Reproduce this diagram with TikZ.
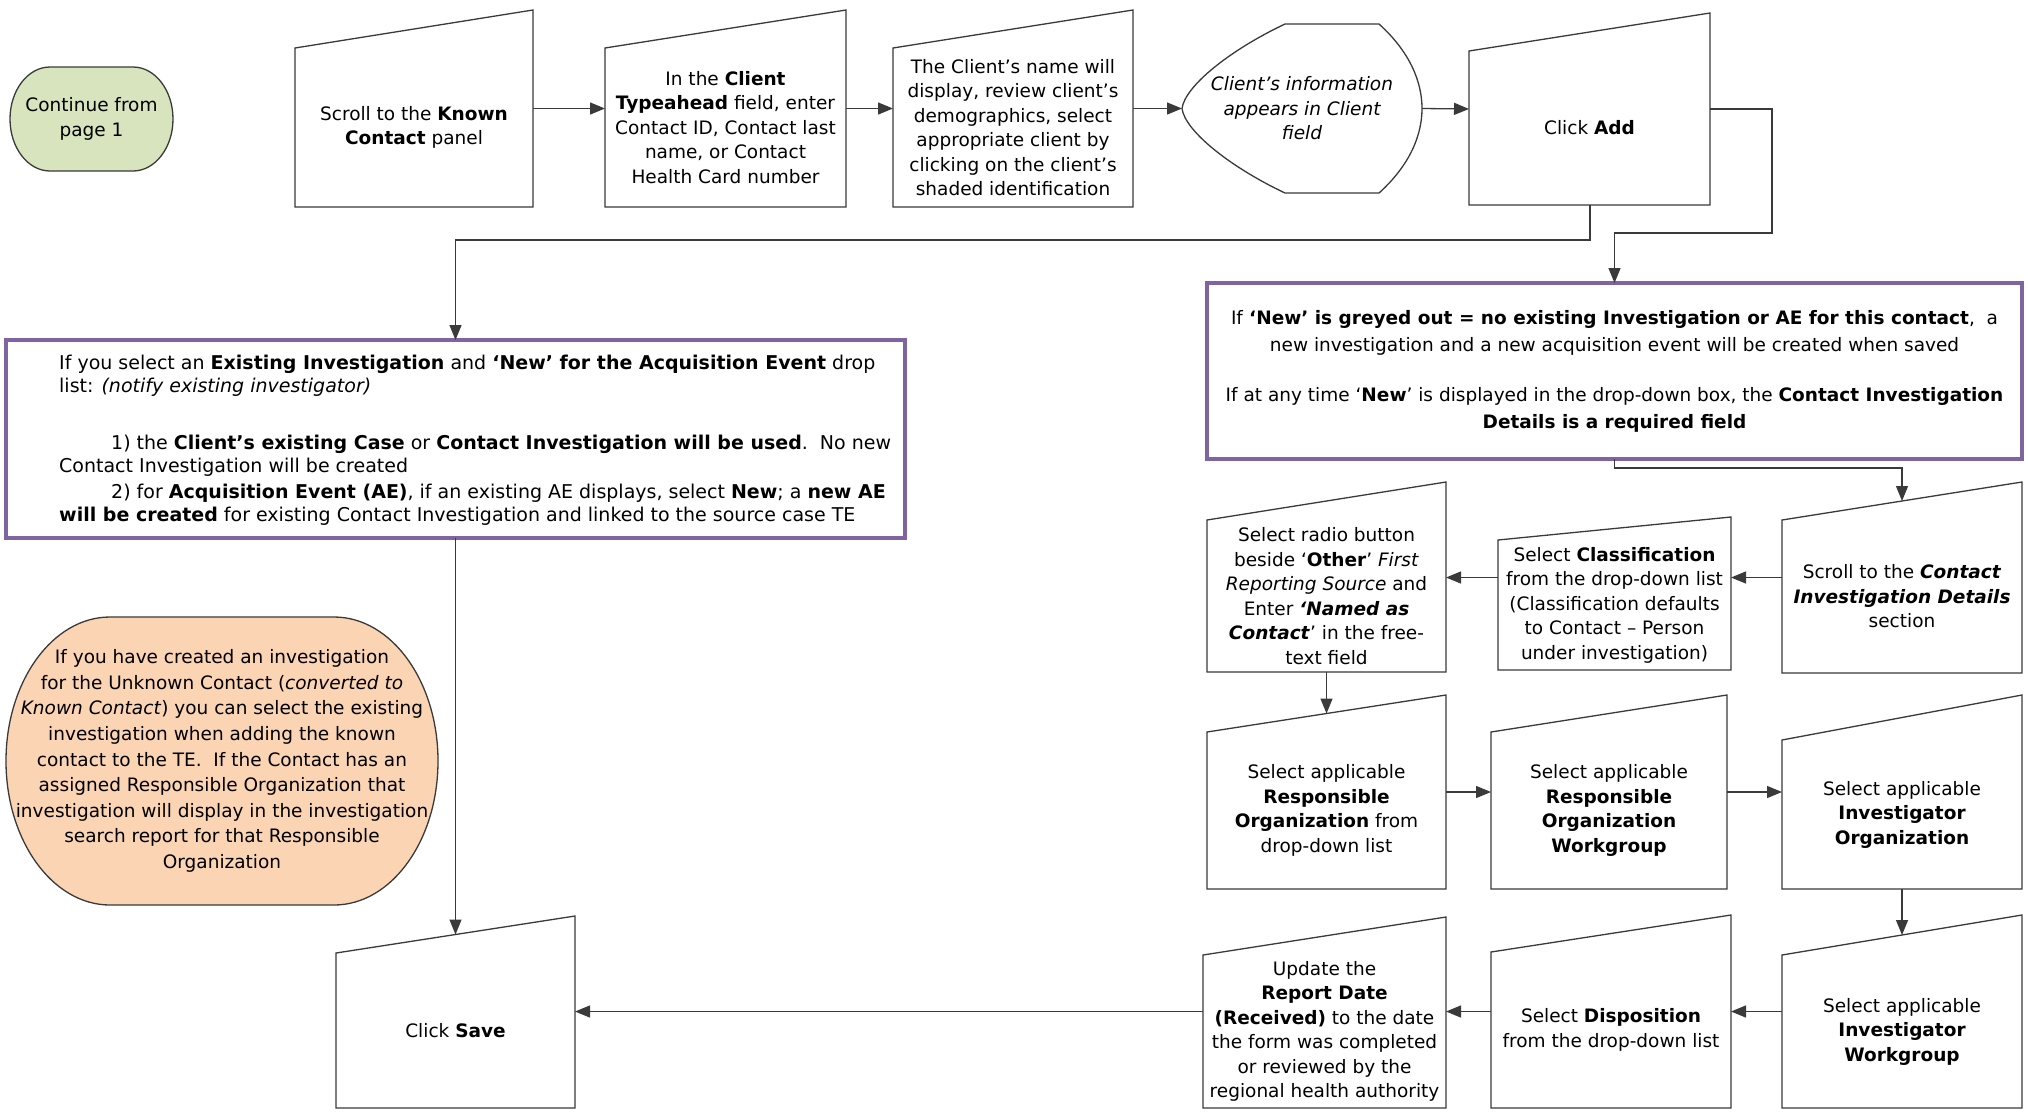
\documentclass[tikz,border=0pt]{standalone}
\usepackage{fontspec}
\setmainfont{DejaVu Sans}
\usetikzlibrary{arrows.meta,calc,backgrounds}
\definecolor{purp}{HTML}{8064A2}
\definecolor{grn}{HTML}{D7E4BD}
\definecolor{org}{HTML}{FBD4B4}
\definecolor{ln}{HTML}{3A3A3A}
\tikzset{
 boxline/.style={draw=ln, line width=1.3pt, line join=miter},
 mitext/.style={inner sep=0pt, outer sep=0pt, align=center, font=\fontsize{18.5}{24.5}\selectfont},
 conn/.style={draw=ln, line width=1.3pt, -{Triangle[length=15pt,width=12pt]}},
 pbox/.style={draw=purp, line width=3.5pt, inner sep=0pt, outer sep=0pt},
}
% name, x1, x2, y top-left, y bottom, slant, text
\newcommand\mibox[7]{%
 \node[mitext, minimum width={#3-#2}, minimum height={#5-#4}] (#1) at ({(#2+#3)/2},{(#4+#5)/2}) {#7};
 \draw[boxline] (#1.south west) -- (#1.south east) -- ([yshift=#6pt]#1.north east) -- (#1.north west) -- cycle;
 \coordinate (#1t) at ([yshift={#6/2}]#1.north);
 \coordinate (#1a) at ([yshift={#6/2}]#1.center);
}
\begin{document}
\begin{tikzpicture}[x=1pt,y=-1pt]
\useasboundingbox[fill=white] (0,0) rectangle (2028,1112);

% Continue terminal
\draw[boxline, fill=grn] (50,67) -- (133,67) arc[start angle=90,end angle=-90,x radius=40pt,y radius=52pt] -- (50,171) arc[start angle=270,end angle=90,x radius=40pt,y radius=52pt] -- cycle;
\node[mitext, minimum width=163, minimum height=104] (cont) at (91.5,119) {Continue from\\page 1};

% top row
\mibox{B1}{295}{533}{48}{207}{38}{Scroll to the \textbf{Known}\\\textbf{Contact} panel}
\mibox{B2}{605}{846}{48}{207}{38}{In the \textbf{Client}\\\textbf{Typeahead} field, enter\\Contact ID, Contact last\\name, or Contact\\Health Card number}
\mibox{B3}{893}{1133}{48}{207}{38}{The Client’s name will\\display, review client’s\\demographics, select\\appropriate client by\\clicking on the client’s\\shaded identification}
\node[mitext, font=\fontsize{18.5}{24.5}\selectfont\itshape, minimum width=240, minimum height=169] (DS) at (1302,108.5) {Client’s information\\appears in Client\\field};
\draw[boxline] (1285,24) -- (1379,24) .. controls (1410,52) and (1422,82) .. (DS.east) .. controls (1422,135) and (1410,165) .. (1379,193) -- (1285,193) .. controls (1230,167) and (1185,131) .. (DS.west) .. controls (1185,86) and (1230,50) .. (1285,24) -- cycle;
\mibox{B5}{1469}{1710}{51}{205}{38}{Click \textbf{Add}}

\draw[conn] (B1a -| B1.east) -- (B1a -| B2.west);
\draw[conn] (B1a -| B2.east) -- (B1a -| B3.west);
\draw[conn] (B1a -| B3.east) -- (DS.west);
\draw[conn] (DS.east) -- (B5a -| B5.west);

% purple boxes
\node[pbox, minimum width=899, minimum height=198] (LP) at (455.5,439) {};
\node[anchor=west, inner sep=0pt, align=left, font=\fontsize{19}{22.5}\selectfont] (LPtext) at (59,440) {If you select an \textbf{Existing Investigation} and \textbf{‘New’ for the Acquisition Event} drop\\list: \textit{(notify existing investigator)}\\[35pt]
\hspace*{52pt}1) the \textbf{Client’s existing Case} or \textbf{Contact Investigation will be used}.\ \ No new\\Contact Investigation will be created\\[4pt]
\hspace*{52pt}2) for \textbf{Acquisition Event (AE)}, if an existing AE displays, select \textbf{New}; a \textbf{new AE}\\\textbf{will be created} for existing Contact Investigation and linked to the source case TE};

\node[pbox, align=center, minimum width=815, minimum height=176, font=\fontsize{18.5}{27}\selectfont] (RP) at (1614.5,371) {If \textbf{‘New’ is greyed out = no existing Investigation or AE for this contact},\ \ a\\new investigation and a new acquisition event will be created when saved\\[23pt]
If at any time ‘\textbf{New}’ is displayed in the drop-down box, the \textbf{Contact Investigation}\\\textbf{Details is a required field}};

% connectors from Click Add
\coordinate (c1) at (1772,233);
\coordinate (c2) at (1590,240);
\draw[conn] (B5a -| B5.east) -| (c1) -| (RP.north);
\mibox{Save}{336}{575}{953}{1108}{37}{Click \textbf{Save}}
\draw[conn] (c2 |- B5.south) -- (c2) -| (Savet |- LP.north);
\draw[conn] (Savet |- LP.south) -- (Savet);

% orange note
\draw[boxline, fill=org] (110,617) -- (334,617) arc[start angle=90,end angle=-90,x radius=104pt,y radius=144pt] -- (110,905) arc[start angle=270,end angle=90,x radius=104pt,y radius=144pt] -- cycle;
\node[mitext, font=\fontsize{18.5}{25.6}\selectfont, minimum width=432, minimum height=288] (OR) at (222,761) {If you have created an investigation\\for the Unknown Contact (\textit{converted to}\\\textit{Known Contact}) you can select the existing\\investigation when adding the known\\contact to the TE.\ \ If the Contact has an\\assigned Responsible Organization that\\investigation will display in the investigation\\search report for that Responsible\\Organization};

% row 2
\mibox{R1}{1782}{2022}{520}{673}{38}{Scroll to the \textbf{\textit{Contact}}\\\textbf{\textit{Investigation Details}}\\section}
\mibox{R2}{1498}{1731}{540}{670}{23}{Select \textbf{Classification}\\from the drop-down list\\(Classification defaults\\to Contact – Person\\under investigation)}
\mibox{R3}{1207}{1446}{520}{672}{38}{Select radio button\\beside ‘\textbf{Other}’ \textit{First}\\\textit{Reporting Source} and\\Enter \textbf{\textit{‘Named as}}\\\textbf{\textit{Contact}}’ in the free-\\text field}
\coordinate (c3) at (1614,468);
\draw[conn] (RP.south) -- (RP.south |- c3) -| (R1t);
\draw[conn] (R1a -| R1.west) -- (R1a -| R2.east);
\draw[conn] (R1a -| R2.west) -- (R1a -| R3.east);

% row 3
\mibox{R4}{1207}{1446}{732}{889}{37}{Select applicable\\\textbf{Responsible}\\\textbf{Organization} from\\drop-down list}
\mibox{R5}{1491}{1727}{732}{889}{37}{Select applicable\\\textbf{Responsible}\\\textbf{Organization}\\\textbf{Workgroup}}
\mibox{R6}{1782}{2022}{740}{889}{45}{Select applicable\\\textbf{Investigator}\\\textbf{Organization}}
\draw[conn] (R3.south) -- (R4t);
\draw[conn] (R4a -| R4.east) -- (R4a -| R5.west);
\draw[conn] (R4a -| R5.east) -- (R4a -| R6.west);

% row 4
\mibox{R7}{1782}{2022}{955}{1108}{40}{Select applicable\\\textbf{Investigator}\\\textbf{Workgroup}}
\mibox{R8}{1491}{1731}{952}{1108}{37}{Select \textbf{Disposition}\\from the drop-down list}
\mibox{R9}{1203}{1446}{955}{1108}{38}{Update the\\\textbf{Report Date}\\\textbf{(Received)} to the date\\the form was completed\\or reviewed by the\\regional health authority}
\draw[conn] (R6.south) -- (R7t);
\draw[conn] (R7a -| R7.west) -- (R7a -| R8.east);
\draw[conn] (R7a -| R8.west) -- (R7a -| R9.east);
\draw[conn] (R7a -| R9.west) -- (R7a -| Save.east);
\end{tikzpicture}
\end{document}
